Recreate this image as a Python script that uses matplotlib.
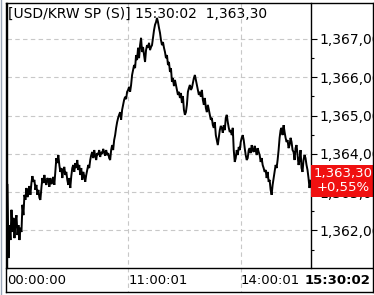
import matplotlib
matplotlib.use("Agg")
import matplotlib.pyplot as plt
from matplotlib.lines import Line2D
from matplotlib.patches import Rectangle
import matplotlib.transforms as mtransforms

# ---- data ----
prices = [
    1363.19, 1361.28, 1362.14,
    1361.75, 1362.54, 1361.96, 1362.33, 1361.80, 1362.22, 1362.40, 1361.88,
    1362.14, 1361.75, 1362.07, 1361.96, 1362.67, 1362.40, 1362.93, 1362.80,
    1363.11, 1362.87, 1363.00, 1363.16, 1362.93, 1363.24, 1363.42, 1363.27,
    1363.32, 1363.06, 1363.19, 1362.93, 1363.06, 1362.85, 1362.80, 1363.11,
    1363.37, 1363.24, 1363.45, 1363.27, 1363.19, 1363.37, 1363.32, 1363.14,
    1363.37, 1363.21, 1363.27, 1363.40, 1363.19, 1363.53, 1363.89, 1363.76,
    1363.97, 1363.71, 1363.53, 1363.63, 1363.37, 1363.58, 1363.66, 1363.45,
    1363.53, 1363.32, 1363.19, 1363.37, 1363.11, 1363.42, 1363.63, 1363.71,
    1363.53, 1363.76, 1363.63, 1363.84, 1363.58, 1363.71, 1363.45, 1363.63,
    1363.32, 1363.53, 1363.42, 1363.27, 1363.45, 1363.58, 1363.71, 1363.63,
    1363.84, 1363.97, 1364.05, 1363.89, 1364.10, 1363.95, 1363.84, 1364.02,
    1363.97, 1364.10, 1363.92, 1364.05, 1364.00, 1364.13, 1364.05, 1363.95,
    1364.10, 1363.97, 1364.02, 1363.89, 1363.84, 1364.10, 1364.23, 1364.10,
    1364.36, 1364.49, 1364.68, 1364.83, 1364.94, 1365.02, 1365.09, 1364.89,
    1365.15, 1365.28, 1365.41, 1365.49, 1365.43, 1365.62, 1365.67, 1365.75,
    1365.62, 1365.80, 1366.06, 1366.19, 1366.32, 1366.24, 1366.58, 1366.45,
    1366.77, 1366.50, 1366.84, 1367.03, 1366.66, 1366.79, 1366.58, 1366.40,
    1366.71, 1366.84, 1366.77, 1366.90, 1366.71, 1366.79, 1366.84, 1367.03,
    1367.23, 1367.37, 1367.44, 1367.55, 1367.44, 1367.29, 1367.16, 1366.97,
    1366.84, 1366.92, 1366.77, 1366.66, 1366.50, 1366.58, 1366.32, 1366.40,
    1366.14, 1366.24, 1365.88, 1365.98, 1365.77, 1365.93, 1365.80, 1365.67,
    1365.54, 1365.62, 1365.46, 1365.59, 1365.33, 1365.51, 1365.15, 1365.02,
    1365.09, 1365.28, 1365.62, 1365.72, 1365.80, 1365.67, 1365.72, 1365.85,
    1365.98, 1366.06, 1365.93, 1365.80, 1365.67, 1365.54, 1365.62, 1365.49,
    1365.67, 1365.41, 1365.28, 1365.46, 1365.20, 1365.09, 1365.28, 1365.15,
    1365.02, 1364.89, 1364.94, 1364.75, 1364.68, 1364.83, 1364.49, 1364.36,
    1364.23, 1364.42, 1364.62, 1364.73, 1364.68, 1364.55, 1364.75, 1364.62,
    1364.94, 1365.02, 1364.83, 1364.68, 1364.57, 1364.62, 1364.49, 1364.68,
    1364.10, 1363.79, 1363.89, 1364.10, 1363.97, 1364.18, 1364.10, 1364.31,
    1364.42, 1364.49, 1364.36, 1364.15, 1363.97, 1363.84, 1363.89, 1364.10,
    1364.15, 1364.02, 1364.23, 1364.10, 1364.05, 1364.21, 1364.10, 1363.97,
    1364.15, 1364.05, 1363.97, 1363.79, 1363.89, 1363.71, 1363.63, 1363.53,
    1363.58, 1363.37, 1363.53, 1363.27, 1363.32, 1363.06, 1362.93, 1363.19,
    1363.37, 1363.53, 1363.71, 1363.63, 1363.84, 1364.10, 1364.42, 1364.62,
    1364.68, 1364.49, 1364.75, 1364.57, 1364.42, 1364.31, 1364.36, 1364.15,
    1364.23, 1364.42, 1364.31, 1364.10, 1364.05, 1363.84, 1364.15, 1364.23,
    1363.97, 1363.71, 1363.84, 1364.10, 1363.63, 1363.53, 1363.84, 1363.97,
    1363.89, 1363.71, 1363.58, 1363.37, 1363.11, 1363.30,
]
ytick_values = [1362, 1363, 1364, 1365, 1366, 1367]
ytick_labels = ["1,362,00", "1,363,00", "1,364,00", "1,365,00", "1,366,00", "1,367,00"]
xtick_index = [0, 121, 234]
xtick_labels = ["00:00:00", "11:00:01", "14:00:01"]
last_time = "15:30:02"
title = "[USD/KRW SP (S)] 15:30:02  1,363,30"
last_label = "1,363,30"
change_label = "+0,55%"

W, H = 374, 295
fig = plt.figure(figsize=(W / 100, H / 100), dpi=100)
fig.patch.set_facecolor("white")

def fx(px):
    return px / W

def fy(py):
    return 1 - py / H

L, R, T, B = 7, 311, 3, 268
ax = fig.add_axes([fx(L), fy(B), fx(R) - fx(L), fy(T) - fy(B)])
ax.set_facecolor("white")

n = len(prices)
xs = list(range(n))
ax.plot(xs, prices, color="black", lw=1.4, solid_joinstyle="miter", zorder=3)
ax.set_xlim(-0.5, n - 0.5)
ax.set_ylim(1361.02, 1367.94)

grid_kw = dict(color="#c8c8c8", lw=0.8, ls=(0, (4, 3)))
for v in ytick_values:
    ax.axhline(v, zorder=1, **grid_kw)
xt = ax.get_xaxis_transform()
for i in xtick_index[1:]:
    ax.plot([i, i], [1, -(292 - B) / (B - T)], transform=xt, clip_on=False, zorder=1, **grid_kw)

# y axis on the right
ax.yaxis.tick_right()
ax.set_yticks(ytick_values)
ax.set_yticklabels(ytick_labels)
ax.set_yticks([v + 0.5 for v in ytick_values[:-1]] + [1361.5], minor=True)
ax.tick_params(axis="y", which="major", length=4.5, width=0.8, direction="out",
               pad=1.5, labelsize=10, colors="black")
ax.tick_params(axis="y", which="minor", length=2.5, width=0.8, direction="out")
ax.set_xticks([])
for s in ax.spines.values():
    s.set_color("black")
    s.set_linewidth(1.0)
ax.spines["bottom"].set_visible(False)
ax.spines["top"].set_visible(False)

# title
ax.text(1 / (R - L), 1 - 4 / (B - T), title, transform=ax.transAxes, ha="left", va="top",
        fontsize=10, color="black", zorder=5)

# x labels
for i, lab in zip(xtick_index, xtick_labels):
    ax.text(i, -(280 - B) / (B - T), lab, transform=xt, ha="left", va="center",
            fontsize=9.5, color="black", clip_on=False)
fig.text(fx(370), fy(280.5), last_time, ha="right", va="center", fontsize=9.5,
         fontweight="bold", color="black")

# last value box
last = prices[-1]
bt = mtransforms.blended_transform_factory(fig.transFigure, ax.transData)
half = 16 / ((B - T) / (1367.94 - 1361.02))
ax.add_patch(Rectangle((fx(R), last - half), fx(373) - fx(R), 2 * half, transform=bt,
                       facecolor="#f01010", edgecolor="none", clip_on=False, zorder=6))
fig.text(fx(343), fy(173), last_label, ha="center", va="center", fontsize=9.5, color="white", zorder=7)
fig.text(fx(343), fy(188), change_label, ha="center", va="center", fontsize=9.5, color="white", zorder=7)

# frame lines
def fline(x0, y0, x1, y1, color="black", lw=1.0):
    fig.add_artist(Line2D([fx(x0), fx(x1)], [fy(y0), fy(y1)], color=color, lw=lw,
                          transform=fig.transFigure))

fline(6, 3, 373, 3)
fline(6, B, 373, B)
fline(6, 292, 373, 292)
fline(6, 3, 6, 292)
fline(373, 3, 373, 292)
fline(1, 0, 1, 295, color="#9aa6b8", lw=1.0)

fig.savefig("out.png", dpi=100, facecolor="white")
